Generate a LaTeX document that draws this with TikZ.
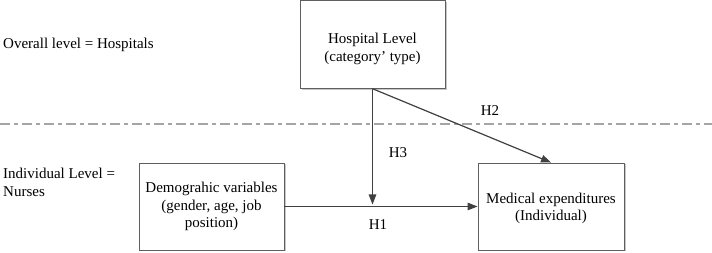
\documentclass[tikz,border=0pt]{standalone}
\usepackage{fontspec}
\setmainfont{Liberation Serif}
\usetikzlibrary{arrows.meta,shadows}
\definecolor{boxline}{RGB}{95,95,95}
\definecolor{arrowc}{RGB}{64,64,64}
\definecolor{dashc}{RGB}{165,165,165}
\begin{document}
\begin{tikzpicture}[x=1pt,y=-1pt,
  txt/.style={font=\fontsize{15}{17.5}\selectfont, text=black, inner sep=0pt},
  varbox/.style={draw=boxline, line width=0.9pt, fill=white, rectangle, inner sep=0pt,
    drop shadow={shadow xshift=1.5pt, shadow yshift=-1.5pt, fill=black, opacity=0.22}},
  arr/.style={draw=arrowc, line width=1.2pt, -{Triangle[length=10pt,width=7.5pt]}},
  levelline/.style={draw=dashc, line width=1.1pt, dash pattern=on 10pt off 4pt on 4pt off 4pt}
]
\useasboundingbox (0,0) rectangle (712,253);
% level separator
\coordinate (dl) at (0,124);
\coordinate (dr) at (712,124);
\draw[levelline] (dl) -- (dr);
% boxes
\node[varbox, minimum width=145pt, minimum height=87.5pt] (hosp) at (372.5,44.5) {};
\node[txt, align=center] (hospt) at (372.5,49) {Hospital Level\\(category’ type)};
\node[varbox, minimum width=145pt, minimum height=87pt] (demo) at (211.5,206.5) {};
\node[txt, align=center] (demot) at (211.5,206.5) {Demograhic variables\\(gender, age, job\\position)};
\node[varbox, minimum width=146pt, minimum height=87pt] (med) at (551,206.5) {};
\node[txt, align=center] (medt) at (551,208.5) {Medical expenditures\\(Individual)};
% level labels
\node[txt, anchor=west] (overall) at (3,45) {Overall level = Hospitals};
\node[txt, anchor=west, align=left] (indiv) at (3,182.5) {Individual Level =\\Nurses};
% connectors
\coordinate (meet) at (hosp.south |- demo.east);
\draw[arr] (demo.east) -- (med.west);
\draw[arr, shorten >=2pt] (hosp.south) -- (meet);
\draw[arr] (hosp.south) -- (med.north);
% hypothesis labels
\node[txt] (h2) at (490,111) {H2};
\node[txt] (h3) at (398,153) {H3};
\node[txt] (h1) at (378,225) {H1};
\end{tikzpicture}
\end{document}
